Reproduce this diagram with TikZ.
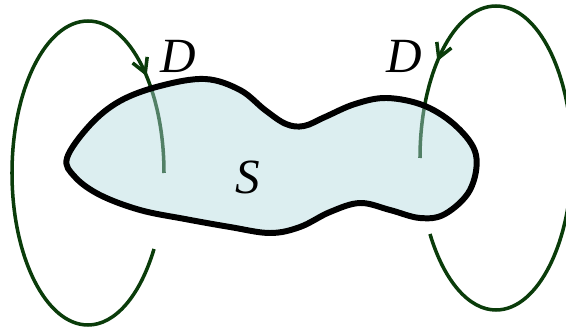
\documentclass[tikz,border=0pt]{standalone}
\usepackage{fontspec}
\setmainfont{Liberation Serif}
\usetikzlibrary{arrows.meta, decorations.markings}
\definecolor{loopgreen}{HTML}{0A3C0A}
\definecolor{sheetfill}{RGB}{176,216,221}
\tikzset{
  loopline/.style={draw=loopgreen, line width=2pt, postaction={decorate},
    decoration={markings, mark=at position 0.85 with {\arrow{Straight Barb[length=8pt,width=9pt]}}}},
  sheet/.style={draw=black, line width=3.4pt, fill=sheetfill, fill opacity=0.44, line join=round},
  lbl/.style={font=\fontsize{28}{30}\selectfont\itshape, inner sep=0pt}
}

\begin{document}
\begin{tikzpicture}[x=0.02cm, y=-0.02cm]
\useasboundingbox (0,0) rectangle (566,328);
% loops through the sheet
\draw[loopline] (154,249) .. controls (140,296) and (115,325) .. (88,325)
  .. controls (46,325) and (12,257) .. (12,173)
  .. controls (12,89) and (46,21) .. (88,21)
  .. controls (130,21) and (164,89) .. (164,173);
\draw[loopline] (430,234) .. controls (444,281) and (469,310) .. (496,310)
  .. controls (538,310) and (572,242) .. (572,158)
  .. controls (572,74) and (538,6) .. (496,6)
  .. controls (454,6) and (420,74) .. (420,158);
% the sheet
\draw[sheet] plot[smooth cycle, tension=0.6] coordinates {
  (67,158) (90,125) (120,101) (160,86) (205,79) (240,90) (265,110) (286,124)
  (304,126) (325,117) (355,104) (387,98) (425,106) (457,127) (476,155) (470,190)
  (445,214) (420,218) (390,210) (360,203) (330,212) (300,227) (270,233)
  (230,227) (185,219) (140,210) (100,195) (75,177)};
\node[lbl] (dleft) at (178,56) {D};
\node[lbl] (dright) at (404,56) {D};
\node[lbl] (sname) at (248,177) {S};
\end{tikzpicture}
\end{document}
